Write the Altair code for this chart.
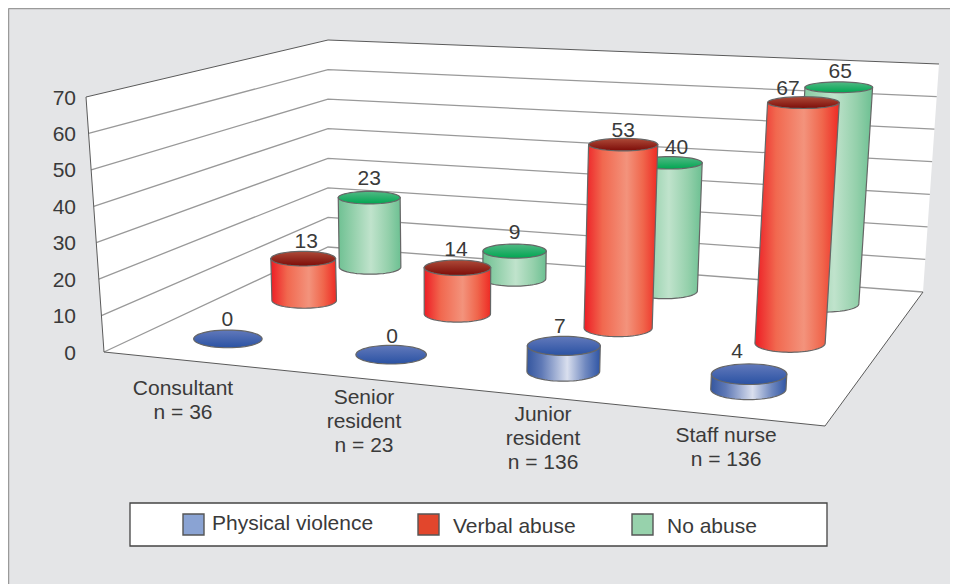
import numpy as np
import pandas as pd
import altair as alt

# ---- chart values -------------------------------------------------------
CATEGORY_LINES = [["Consultant", "n = 36"],
                  ["Senior", "resident", "n = 23"],
                  ["Junior", "resident", "n = 136"],
                  ["Staff nurse", "n = 136"]]
SERIES = ["Physical violence", "Verbal abuse", "No abuse"]
PHYSICAL = [0, 0, 7, 4]
VERBAL = [13, 14, 53, 67]
NO_ABUSE = [23, 9, 40, 65]
Y_TICKS = [0, 10, 20, 30, 40, 50, 60, 70]

# ---- label placement ----------------------------------------------------
CATEGORY_U = [0.516, 1.515, 2.505, 3.503]
SERIES_RADIUS = [1.0, 0.97, 0.95]
LABEL_DX = [[-0.5, 1, -4, -12], [3, -1.5, 0, -15.5], [0, 0, 7, 1.5]]
LABEL_DY = [[-1.5, -0.5, -1.5, -4.5], [0.5, -0.5, 3.5, 3.5], [-1.5, -0.5, 2.5, 2.5]]
CATEGORY_X = [183, 364, 543, 726]
CATEGORY_Y0 = [387, 396, 413, 434]
LEGEND_SWATCH_X = [183, 418, 632]
LEGEND_TEXT_X = [212, 453, 667]
LEGEND_TEXT_Y = [522, 525, 525]

# ---- box corners and the 3D projection calibrated on them ----------------
W, H = 958.0, 584.0
FL0, FL1 = (104, 352), (86, 97)    # front-left edge, value 0 and value 70
BL0, BL1 = (328, 247), (328, 40)   # back-left edge
BR0, BR1 = (923, 292), (939, 64)   # back-right edge
FR0 = (825, 426)                   # front-right floor corner
corners = [((0, 0, 0), FL0), ((0, 0, 70), FL1),
           ((0, 1, 0), BL0), ((0, 1, 70), BL1),
           ((4, 1, 0), BR0), ((4, 1, 70), BR1),
           ((4, 0, 0), FR0)]
rows = []
for (u, v, z), (px, py) in corners:
    X3 = [u / 4, v, z / 70, 1]
    a, b = px / W, py / H
    rows.append(X3 + [0, 0, 0, 0] + [-a * c for c in X3])
    rows.append([0, 0, 0, 0] + X3 + [-b * c for c in X3])
P = np.linalg.svd(np.array(rows))[2][-1].reshape(3, 4)


def proj(u, v, z):
    h = P @ np.array([u / 4, v, z / 70, 1.0])
    return h[0] / h[2] * W, h[1] / h[2] * H


def along(p0, p1, z):
    return (p0[0] + (p1[0] - p0[0]) * z / 70, p0[1] + (p1[1] - p0[1]) * z / 70)


# ---- shared scales ---------------------------------------------------------
XS = alt.X("x:Q", scale=alt.Scale(domain=[8, 950], range=[0, 942]), axis=None)
YS = alt.Y("y:Q", scale=alt.Scale(domain=[8, 584], range=[0, 576]), axis=None)
Y2 = alt.Y2("y2:Q")


def envelope(points):
    pts = list(points)
    rows_ = []
    for x in sorted({round(p[0], 3) for p in pts}):
        ys = []
        for (x0, y0), (x1, y1) in zip(pts, pts[1:] + pts[:1]):
            lo, hi = min(x0, x1), max(x0, x1)
            if lo - 1e-3 <= x <= hi + 1e-3:
                if abs(x1 - x0) < 1e-6:
                    ys += [y0, y1]
                else:
                    ys.append(y0 + (y1 - y0) * (x - x0) / (x1 - x0))
        rows_.append({"x": x, "y": min(ys), "y2": max(ys)})
    return pd.DataFrame(rows_)


def shape(points, **mark):
    return alt.Chart(envelope(points)).mark_area(**mark).encode(x=XS, y=YS, y2=Y2)


def lines(segments, **mark):
    rows_ = []
    for k, seg in enumerate(segments):
        for (x, y) in seg:
            rows_.append({"x": x, "y": y, "k": k})
    return alt.Chart(pd.DataFrame(rows_)).mark_line(**mark).encode(
        x=XS, y=YS, detail="k:N")


def text(rows_, **mark):
    return alt.Chart(pd.DataFrame(rows_)).mark_text(
        font="Liberation Sans", fontSize=21, color="#3a3a3a", baseline="middle",
        dy=1.5, **mark
    ).encode(x=XS, y=YS, text="t:N")


def grad(stops, vertical=False):
    st = [alt.GradientStop(offset=o, color=c) for o, c in stops]
    if vertical:
        return alt.LinearGradient(gradient="linear", stops=st, x1=0, x2=0, y1=0, y2=1)
    return alt.LinearGradient(gradient="linear", stops=st, x1=0, x2=1, y1=0, y2=0)


BODY = [
    [(0, "#34569f"), (0.2, "#5f79b6"), (0.55, "#d9dfee"), (0.8, "#6f88bf"), (1, "#2f55a5")],
    [(0, "#ed1c24"), (0.25, "#f1684f"), (0.58, "#f3937c"), (0.8, "#f0664c"), (1, "#ee2a24")],
    [(0, "#6fc193"), (0.25, "#96d1ad"), (0.52, "#c0e3cc"), (0.8, "#94d0ab"), (1, "#6cc092")],
]
TOP = [
    [(0, "#6279bb"), (1, "#2a52a3")],
    [(0, "#ae4a38"), (1, "#7c0c08")],
    [(0, "#52b985"), (1, "#00a651")],
]
SWATCH = ["#8aa3d3", "#e2462c", "#97d2ac"]
EDGE = "#666666"


def ellipse(cx, cy, a, b, n=48):
    return [(cx + a * np.cos(t), cy + b * np.sin(t))
            for t in np.linspace(0, 2 * np.pi, n, endpoint=False)]


def semi(y, u, v, z, k, r=0.205):
    xa = proj(u - r, v, z)[0]
    xb = proj(u + r, v, z)[0]
    a = (0.5 * abs(xb - xa) / 2 + 18) * k
    return a, a * (0.16 + 0.0004 * (y - 90))


layers = []

# walls and floor
for poly in ([FL0, FL1, BL1, BL0], [BL0, BL1, BR1, BR0], [FL0, BL0, BR0, FR0]):
    layers.append(shape(poly, fill="white"))

# frame of the panel (top and left only; the others run off the page)
layers.append(lines([[(8.5, 8.5), (950, 8.5)], [(8.5, 8.5), (8.5, 584)]],
                    color="#9a9a9a", strokeWidth=1.5))

# gridlines
grid = [[along(FL0, FL1, z), along(BL0, BL1, z), along(BR0, BR1, z)] for z in Y_TICKS[:-1]]
layers.append(lines(grid, color="#999999", strokeWidth=1.3))
layers.append(lines([[FL1, BL1, BR1], [FL0, FL1], [FL0, FR0], [FR0, BR0]],
                    color="#5a5a5a", strokeWidth=1))

# cylinders, back row first
series_values = [PHYSICAL, VERBAL, NO_ABUSE]
labels = []
for j in (2, 1, 0):
    v = (j + 0.5) / 3
    for i, val in enumerate(series_values[j]):
        u = CATEGORY_U[i]
        bx, by = proj(u, v, 0)
        tx, ty = proj(u, v, val)
        ab, bb = semi(by, u, v, 0, SERIES_RADIUS[j])
        at, bt = semi(ty, u, v, val, SERIES_RADIUS[j])
        if val > 0:
            lower = [(bx + ab * np.cos(t), by + bb * np.sin(t))
                     for t in np.linspace(0, np.pi, 40)]
            layers.append(shape([(tx + at, ty)] + lower + [(tx - at, ty)],
                                fill=grad(BODY[j]), stroke=EDGE, strokeWidth=1.2))
        layers.append(shape(ellipse(tx, ty, at, bt),
                            fill=grad(TOP[j], vertical=True), stroke=EDGE, strokeWidth=1.2))
        labels.append({"x": tx + LABEL_DX[j][i], "y": ty - 19 + LABEL_DY[j][i], "t": str(val)})

layers.append(text(labels, align="center"))

# y axis labels
layers.append(text([{"x": 76, "y": along(FL0, FL1, z)[1], "t": str(z)} for z in Y_TICKS],
                   align="right"))

# category labels
cat_rows = []
for cx, cy, ls in zip(CATEGORY_X, CATEGORY_Y0, CATEGORY_LINES):
    for k, s in enumerate(ls):
        cat_rows.append({"x": cx, "y": cy + 24 * k, "t": s})
layers.append(text(cat_rows, align="center"))

# legend
layers.append(alt.Chart(pd.DataFrame([{"x": 130, "x2": 827, "y": 503, "y2": 546}]))
              .mark_rect(fill="white", stroke="#444444", strokeWidth=1.3)
              .encode(x=XS, x2="x2:Q", y=YS, y2=Y2))
for sx, col in zip(LEGEND_SWATCH_X, SWATCH):
    layers.append(alt.Chart(pd.DataFrame([{"x": sx, "x2": sx + 21, "y": 514, "y2": 535}]))
                  .mark_rect(fill=col, stroke="#555555", strokeWidth=1.4)
                  .encode(x=XS, x2="x2:Q", y=YS, y2=Y2))
layers.append(text([{"x": x, "y": y, "t": s}
                    for x, y, s in zip(LEGEND_TEXT_X, LEGEND_TEXT_Y, SERIES)],
                   align="left"))

chart = alt.layer(*layers).properties(
    width=942, height=576, padding=0,
    autosize=alt.AutoSizeParams(type="none"),
    background="#e4e5e7",
).configure_view(stroke=None)

chart.save("out.html", embed_options={"renderer": "svg", "actions": False})
